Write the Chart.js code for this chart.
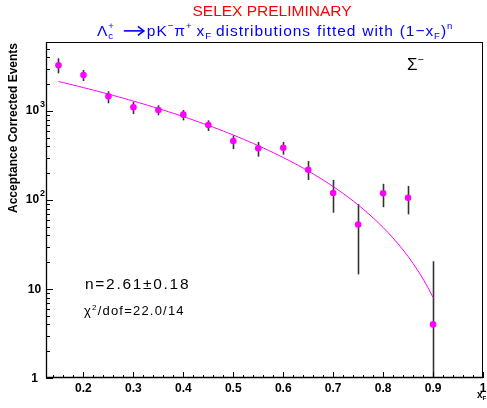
<!DOCTYPE html>
<html>
<head>
<meta charset="utf-8">
<script src="https://cdn.jsdelivr.net/npm/chart.js@4.4.1/dist/chart.umd.min.js"></script>
<style>
  html, body { margin: 0; padding: 0; background: #fff; }
  canvas { display: block; }
</style>
</head>
<body>
<canvas id="chart" width="487" height="408"></canvas>
<script>
// x_F bin centres and acceptance corrected yields
const xF      = [0.15, 0.20, 0.25, 0.30, 0.35, 0.40, 0.45, 0.50, 0.55, 0.60, 0.65, 0.70, 0.75, 0.80, 0.85, 0.90];
const events  = [3260, 2530, 1460, 1100, 1025, 910, 697, 460, 381, 387, 219, 120, 53, 119, 106, 4.0];
const errHigh = [3910, 2890, 1665, 1270, 1160, 1025, 785, 533, 449, 449, 274, 168, 90, 152, 144, 20.5];
const errLow  = [2650, 2170, 1220, 925, 895, 785, 595, 374, 307, 323, 168, 72, 14.6, 83, 69, 0];

// fit (1 - xF)^n
const fitNorm = 3280;
const fitN = 2.61;
const fitFrom = 0.15, fitTo = 0.90;

const xTicks = [0.2, 0.3, 0.4, 0.5, 0.6, 0.7, 0.8, 0.9, 1.0];
const xTickLabels = ['0.2', '0.3', '0.4', '0.5', '0.6', '0.7', '0.8', '0.9', '1'];
const yDecades = [1, 10, 100, 1000];

const FONT = '"Liberation Sans", Arial, Helvetica, sans-serif';
const MAGENTA = '#ff00ff';

const points = xF.map((x, i) => ({ x: x, y: events[i] }));
const fitPts = [];
for (let k = 0; k <= 75; k++) {
  const x = fitFrom + (fitTo - fitFrom) * k / 75;
  fitPts.push({ x: x, y: fitNorm * Math.pow(1 - x, fitN) });
}

// text from pieces: [text, mode, noAdvance]; mode 0 normal, 1 sup, -1 sub,
// 'arrow' = drawn arrow of width text, 'gap' = blank of width text
function rich(ctx, parts, x, y, size, color, opts) {
  opts = opts || {};
  const weight = opts.bold ? 'bold ' : '';
  const fs = m => (m === 1 || m === -1 ? size * 0.62 : size);
  const sp = opts.spacing || 0;
  ctx.save();
  ctx.fillStyle = color;
  ctx.strokeStyle = color;
  ctx.textBaseline = 'alphabetic';
  ctx.textAlign = 'left';
  ctx.letterSpacing = sp + 'px';
  const widthOf = p => {
    if (p[1] === 'arrow' || p[1] === 'gap') return p[0];
    ctx.font = weight + fs(p[1]) + 'px ' + FONT;
    return ctx.measureText(p[0]).width;
  };
  let full = 0;
  parts.forEach(p => { if (!p[2]) full += widthOf(p); });
  let cx = x;
  if (opts.align === 'center') cx = x - full / 2;
  parts.forEach(p => {
    const [t, m, stay] = p;
    const w = widthOf(p);
    if (m === 'arrow') {
      const ay = y - size * 0.33;
      ctx.lineWidth = 1.6;
      ctx.beginPath();
      ctx.moveTo(cx + 1, ay);
      ctx.lineTo(cx + t - 2, ay);
      ctx.stroke();
      ctx.beginPath();
      ctx.moveTo(cx + t - 7, ay - 4.5);
      ctx.lineTo(cx + t - 1, ay);
      ctx.lineTo(cx + t - 7, ay + 4.5);
      ctx.stroke();
    } else if (m !== 'gap') {
      ctx.font = weight + fs(m) + 'px ' + FONT;
      const dy = m === 1 ? -size * 0.42 : (m === -1 ? size * 0.22 : 0);
      ctx.fillText(t, cx, y + dy);
    }
    if (!stay) cx += w;
  });
  ctx.restore();
}

const errorBars = {
  id: 'errorBars',
  beforeDatasetsDraw(chart) {
    const { ctx, chartArea, scales } = chart;
    ctx.save();
    ctx.beginPath();
    ctx.rect(chartArea.left, chartArea.top, chartArea.right - chartArea.left, chartArea.bottom - chartArea.top);
    ctx.clip();
    ctx.strokeStyle = '#333';
    ctx.lineWidth = 1.6;
    xF.forEach((x, i) => {
      const px = Math.round(scales.x.getPixelForValue(x)) + 0.5;
      const top = scales.y.getPixelForValue(errHigh[i]);
      const bot = errLow[i] > 0 ? scales.y.getPixelForValue(errLow[i]) : chartArea.bottom;
      ctx.beginPath();
      ctx.moveTo(px, top);
      ctx.lineTo(px, bot);
      ctx.stroke();
    });
    ctx.restore();
  }
};

const frame = {
  id: 'frame',
  afterDraw(chart) {
    const { ctx, chartArea: a, scales } = chart;
    const xs = scales.x, ys = scales.y;
    ctx.save();
    // box
    ctx.strokeStyle = '#000';
    ctx.lineWidth = 1;
    ctx.strokeRect(a.left + 0.5, a.top + 0.5, a.right - a.left - 1, a.bottom - a.top - 1);
    ctx.lineWidth = 1.3;
    ctx.beginPath();
    ctx.moveTo(a.left + 0.5, a.top);
    ctx.lineTo(a.left + 0.5, a.bottom - 0.5);
    ctx.lineTo(a.right, a.bottom - 0.5);
    ctx.stroke();

    // x ticks (inward)
    ctx.lineWidth = 1;
    for (let v = 0.14; v < 1.001; v += 0.02) {
      const px = Math.round(xs.getPixelForValue(v)) + 0.5;
      const major = Math.abs(v * 10 - Math.round(v * 10)) < 1e-6;
      ctx.beginPath();
      ctx.moveTo(px, a.bottom);
      ctx.lineTo(px, a.bottom - (major ? 6 : 3));
      ctx.stroke();
    }
    // y ticks (inward)
    yDecades.forEach(d => {
      for (let m = 1; m <= 9; m++) {
        const v = d * m;
        if (v > ys.max) break;
        const py = Math.round(ys.getPixelForValue(v)) + 0.5;
        ctx.beginPath();
        ctx.moveTo(a.left, py);
        ctx.lineTo(a.left + (m === 1 ? 7 : 4), py);
        ctx.stroke();
      }
    });

    // x tick labels
    ctx.fillStyle = '#000';
    ctx.font = 'bold 12px ' + FONT;
    ctx.textAlign = 'center';
    ctx.textBaseline = 'alphabetic';
    xTicks.forEach((v, i) => {
      ctx.fillText(xTickLabels[i], xs.getPixelForValue(v), 392);
    });

    // y tick labels
    ctx.textBaseline = 'middle';
    yDecades.forEach(d => {
      const py = ys.getPixelForValue(d);
      ctx.font = 'bold 12px ' + FONT;
      ctx.textAlign = 'center';
      if (d < 100) {
        ctx.fillText(String(d), 34.5, py + 1);
      } else {
        ctx.fillText('10', 32.5, py);
        ctx.font = 'bold 9px ' + FONT;
        ctx.textAlign = 'left';
        ctx.fillText(String(Math.round(Math.log10(d))), 40, py - 6);
      }
    });

    // axis titles
    ctx.save();
    ctx.translate(17, 128);
    ctx.rotate(-Math.PI / 2);
    rich(ctx, [['Acceptance Corrected Events', 0]], 0, 0, 12, '#000', { bold: true, align: 'center' });
    ctx.restore();
    rich(ctx, [['x', 0], ['F', -1]], 477, 398, 10, '#000', { bold: true });

    // titles
    rich(ctx, [['SELEX PRELIMINARY', 0]], 272, 16, 15.5, '#ff0000', { align: 'center' });
    rich(ctx, [['\u039B', 0], ['c', -1, true], ['+', 1], [8, 'gap'], [22, 'arrow'], [2, 'gap'], ['pK', 0], ['\u2212', 1],
               ['\u03C0', 0], ['+', 1], [4, 'gap'], ['x', 0], ['F', -1], [4, 'gap'], ['distributions', 0], [6, 'gap'],
               ['fitted', 0], [6, 'gap'], ['with', 0], [6, 'gap'], ['(1\u2212x', 0], ['F', -1], [')', 0], ['n', 1]],
         97, 36, 15.5, '#0000ff', { spacing: 0.95 });

    // annotations
    rich(ctx, [['\u03A3', 0], ['\u2212', 1]], 407, 70, 17, '#000', {});
    rich(ctx, [['n=2.61\u00B10.18', 0]], 85, 289, 15.5, '#000', { spacing: 1.7 });
    rich(ctx, [['\u03C7', 0], ['2', 1], ['/dof=22.0/14', 0]], 84, 315, 13, '#000', { spacing: 1.2 });
    ctx.restore();
  }
};

const ctx = document.getElementById('chart').getContext('2d');
new Chart(ctx, {
  type: 'scatter',
  data: {
    datasets: [
      {
        type: 'line',
        data: fitPts,
        borderColor: MAGENTA,
        borderWidth: 1,
        pointRadius: 0,
        fill: false,
        tension: 0,
        order: 2
      },
      {
        data: points,
        backgroundColor: MAGENTA,
        borderColor: MAGENTA,
        pointRadius: 3.3,
        borderWidth: 0,
        order: 1
      }
    ]
  },
  options: {
    responsive: false,
    animation: false,
    devicePixelRatio: 1,
    layout: { padding: { left: 46, top: 42, right: 0, bottom: 30 } },
    plugins: { legend: { display: false }, tooltip: { enabled: false } },
    scales: {
      x: { type: 'linear', min: 0.125, max: 1.0, display: false },
      y: { type: 'logarithmic', min: 1, max: 5960, display: false }
    }
  },
  plugins: [errorBars, frame]
});
</script>
</body>
</html>
